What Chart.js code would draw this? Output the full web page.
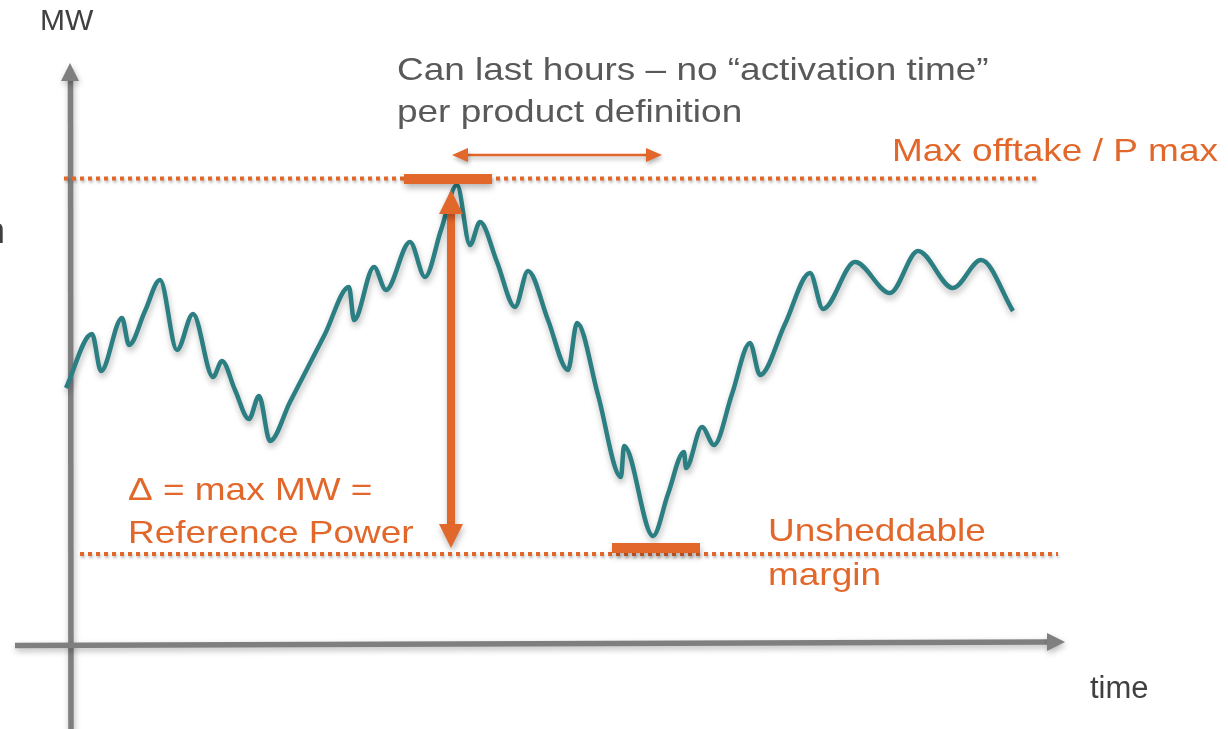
<!DOCTYPE html>
<html>
<head>
<meta charset="utf-8">
<script src="https://cdn.jsdelivr.net/npm/chart.js@4/dist/chart.umd.min.js"></script>
<style>
  html, body { margin: 0; padding: 0; background: #ffffff; }
  #wrap { width: 1228px; height: 729px; }
</style>
</head>
<body>
<div id="wrap"><canvas id="c" width="1228" height="729"></canvas></div>
<script>
// ---- data (time units, MW units) ----
const times = [-5, 21, 30, 51, 58, 74, 89, 106, 122, 142, 151, 164, 178, 188, 199, 219, 254, 278, 283, 303, 315, 339, 354, 370, 386, 399, 409, 426, 444, 457, 477, 497, 506, 527, 550, 553, 582, 597, 613, 615, 631, 643, 661, 679, 689, 714, 739, 752, 784, 819, 847, 882, 910, 942];
const mw    = [257, 311, 274, 327, 300, 334, 365, 295, 331, 268, 284, 255, 226, 249, 204, 243, 311, 358, 325, 378, 355, 403, 368, 415, 460, 400, 423, 383, 338, 374, 325, 275, 322, 250, 168, 199, 109, 151, 193, 177, 218, 200, 251, 302, 270, 321, 372, 336, 383, 352, 394, 357, 385, 334];

// reference levels (MW)
const pMaxLevel = 466.5;
const marginLevel = 91;
const pMaxBarLevel = 466;
const marginBarLevel = 97;
// spans (time)
const pMaxDotSpan = [-7, 969];
const marginDotSpan = [9, 987];
const pMaxBarSpan = [333, 421];
const marginBarSpan = [541, 629];
const deltaArrowTime = 380;
const deltaArrowSpan = [97, 455];
const durationArrowLevel = 490;
const durationArrowSpan = [381, 591];

// text labels
const axisLabels = ["MW", "time"];
const noteLines = ["Can last hours \u2013 no \u201Cactivation time\u201D", "per product definition"];
const pMaxLabel = "Max offtake / P max";
const deltaLines = ["\u0394 = max MW =", "Reference Power"];
const marginLines = ["Unsheddable", "margin"];

const ORANGE = '#E2672B';
const TEAL = '#2B7E81';
const AXIS = '#7F7F7F';
const FONT = '"Liberation Sans", Arial, sans-serif';
const STRETCH = 1.155;

function shadow(ctx, blur, oy) {
  ctx.shadowColor = 'rgba(0,0,0,0.28)';
  ctx.shadowBlur = blur;
  ctx.shadowOffsetX = 1;
  ctx.shadowOffsetY = oy;
}
function noShadow(ctx) {
  ctx.shadowColor = 'rgba(0,0,0,0)';
  ctx.shadowBlur = 0; ctx.shadowOffsetX = 0; ctx.shadowOffsetY = 0;
}
function wideText(ctx, text, x, y) {
  ctx.save();
  ctx.translate(x, y);
  ctx.scale(STRETCH, 1);
  ctx.fillText(text, 0, 0);
  ctx.restore();
}

const overlay = {
  id: 'overlay',
  beforeDatasetsDraw(chart) {
    const ctx = chart.ctx;
    const X = v => chart.scales.x.getPixelForValue(v);
    const Y = v => chart.scales.y.getPixelForValue(v);
    ctx.save();
    // axes
    shadow(ctx, 6, 3);
    ctx.strokeStyle = AXIS; ctx.fillStyle = AXIS; ctx.lineWidth = 5.5;
    // y axis
    ctx.beginPath();
    ctx.moveTo(X(0), Y(-90)); ctx.lineTo(X(-0.5), Y(565));
    ctx.stroke();
    ctx.beginPath();
    ctx.moveTo(X(-1), Y(582)); ctx.lineTo(X(-10), Y(564)); ctx.lineTo(X(8), Y(564)); ctx.closePath(); ctx.fill();
    // x axis
    ctx.beginPath();
    ctx.moveTo(X(-56), Y(-0.5)); ctx.lineTo(X(977), Y(3));
    ctx.stroke();
    ctx.beginPath();
    ctx.moveTo(X(994), Y(3)); ctx.lineTo(X(976), Y(12)); ctx.lineTo(X(976), Y(-6)); ctx.closePath(); ctx.fill();

    // dotted reference lines
    noShadow(ctx);
    shadow(ctx, 3, 2);
    ctx.strokeStyle = ORANGE; ctx.lineWidth = 4; ctx.setLineDash([4, 4]);
    ctx.beginPath();
    ctx.moveTo(X(pMaxDotSpan[0]), Y(pMaxLevel)); ctx.lineTo(X(pMaxDotSpan[1]), Y(pMaxLevel));
    ctx.stroke();
    ctx.beginPath();
    ctx.moveTo(X(marginDotSpan[0]), Y(marginLevel)); ctx.lineTo(X(marginDotSpan[1]), Y(marginLevel));
    ctx.stroke();
    ctx.setLineDash([]);
    ctx.restore();
  },
  beforeDatasetDraw(chart) {
    const ctx = chart.ctx;
    ctx.save();
    shadow(ctx, 6, 4);
  },
  afterDatasetDraw(chart) {
    chart.ctx.restore();
  },
  afterDatasetsDraw(chart) {
    const ctx = chart.ctx;
    const X = v => chart.scales.x.getPixelForValue(v);
    const Y = v => chart.scales.y.getPixelForValue(v);
    ctx.save();
    shadow(ctx, 6, 4);
    ctx.fillStyle = ORANGE; ctx.strokeStyle = ORANGE;
    // bars
    ctx.fillRect(X(pMaxBarSpan[0]), Y(pMaxBarLevel) - 5, X(pMaxBarSpan[1]) - X(pMaxBarSpan[0]), 10);
    ctx.fillRect(X(marginBarSpan[0]), Y(marginBarLevel) - 5, X(marginBarSpan[1]) - X(marginBarSpan[0]), 10);

    // vertical double arrow
    const ax = X(deltaArrowTime);
    const yTop = Y(deltaArrowSpan[1]), yBot = Y(deltaArrowSpan[0]);
    ctx.lineWidth = 8;
    ctx.beginPath(); ctx.moveTo(ax, yTop + 20); ctx.lineTo(ax, yBot - 20); ctx.stroke();
    ctx.beginPath(); ctx.moveTo(ax, yTop); ctx.lineTo(ax - 12, yTop + 24); ctx.lineTo(ax + 12, yTop + 24); ctx.closePath(); ctx.fill();
    ctx.beginPath(); ctx.moveTo(ax, yBot); ctx.lineTo(ax - 12, yBot - 24); ctx.lineTo(ax + 12, yBot - 24); ctx.closePath(); ctx.fill();

    // horizontal double arrow
    const hy = Y(durationArrowLevel);
    const xl = X(durationArrowSpan[0]), xr = X(durationArrowSpan[1]);
    shadow(ctx, 4, 3);
    ctx.lineWidth = 2.5;
    ctx.beginPath(); ctx.moveTo(xl + 12, hy); ctx.lineTo(xr - 12, hy); ctx.stroke();
    ctx.beginPath(); ctx.moveTo(xl, hy); ctx.lineTo(xl + 16, hy - 7); ctx.lineTo(xl + 16, hy + 7); ctx.closePath(); ctx.fill();
    ctx.beginPath(); ctx.moveTo(xr, hy); ctx.lineTo(xr - 16, hy - 7); ctx.lineTo(xr - 16, hy + 7); ctx.closePath(); ctx.fill();
    ctx.restore();

    // texts
    ctx.save();
    ctx.textBaseline = 'alphabetic';
    ctx.textAlign = 'left';
    ctx.font = '30px ' + FONT;
    ctx.fillStyle = '#404040';
    ctx.fillText(axisLabels[0], X(-31), 30);
    ctx.font = '31px ' + FONT;
    ctx.fillText(axisLabels[1], X(1019), 698);
    ctx.font = '36px ' + FONT;
    ctx.fillText('n', -15, 243);
    ctx.font = '32px ' + FONT;
    ctx.fillStyle = '#595959';
    wideText(ctx, noteLines[0], X(326), 80);
    wideText(ctx, noteLines[1], X(326), 122);
    ctx.fillStyle = ORANGE;
    wideText(ctx, pMaxLabel, X(821), 161);
    wideText(ctx, deltaLines[0], X(57), 500);
    wideText(ctx, deltaLines[1], X(57), 543);
    wideText(ctx, marginLines[0], X(697), 541);
    wideText(ctx, marginLines[1], X(697), 585);
    ctx.restore();
  }
};

new Chart(document.getElementById('c'), {
  type: 'line',
  data: {
    datasets: [{
      data: times.map((t, i) => ({ x: t, y: mw[i] })),
      borderColor: TEAL,
      borderWidth: 4.5,
      pointRadius: 0,
      fill: false,
      cubicInterpolationMode: 'monotone',
      clip: false
    }]
  },
  options: {
    responsive: false,
    animation: false,
    layout: { padding: 0 },
    plugins: { legend: { display: false }, tooltip: { enabled: false }, title: { display: false } },
    scales: {
      x: { type: 'linear', min: -71, max: 1157, display: false },
      y: { type: 'linear', min: -84, max: 645, display: false }
    }
  },
  plugins: [overlay]
});
</script>
</body>
</html>
